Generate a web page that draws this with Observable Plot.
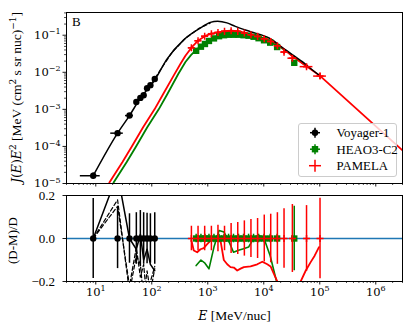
<!DOCTYPE html>
<html><head><meta charset="utf-8">
<script src="https://cdn.jsdelivr.net/npm/d3@7"></script>
<script src="https://cdn.jsdelivr.net/npm/@observablehq/plot@0.6"></script>
<style>body{margin:0;background:white}#chart{width:415px;height:330px;position:relative;background:white}svg{display:block}</style>
</head><body><div id="chart"></div><script>
const TXT = "'Liberation Serif', 'Times New Roman', serif";
const MATH = "'DejaVu Serif', serif";

// ---- Voyager-1 data ----
const voyE = [9.0, 24.5, 40, 53, 62.5, 71.6, 82.4, 94.5, 113];
const voyJ = [1.62e-5, 2.28e-4, 6.8e-4, 1.58e-3, 2.04e-3, 2.4e-3, 3.7e-3, 4.5e-3, 6.6e-3];
const voyLo = [5.3, 18.5, 34, 49.5, 58.5, 67, 77, 88.5, 105];
const voyHi = [12.0, 31, 47, 56.7, 66.5, 76, 88, 101, 121];
const voyErr = [0.186, 0.14, 0.115, 0.12, 0.13, 0.12, 0.118, 0.115, 0.12];
const voyResSolid = [0, 0.30, 0.0, -0.05, 0.02, -0.10, -0.05, -0.12, -0.15];
const voyResDashA = [0, 0.18, -0.25, -0.08, -0.12, -0.28, -0.15, -0.25, -0.14];
const voyResDashB = [0, 0.15, -0.22, -0.04, -0.18, -0.12, -0.30, -0.20, -0.13];

// ---- HEAO3-C2 data ----
const heaE = [620, 755, 890, 1050, 1290, 1590, 1950, 2350, 2880, 3540, 4350, 5350, 6570, 8070, 10100, 13000, 17300, 35000];
const heaJ = [0.038, 0.049, 0.058, 0.070, 0.082, 0.094, 0.100, 0.103, 0.103, 0.103, 0.100, 0.097, 0.091, 0.083, 0.073, 0.063, 0.048, 0.018];
const heaErr = [0.02, 0.02, 0.02, 0.02, 0.02, 0.02, 0.02, 0.02, 0.02, 0.02, 0.02, 0.02, 0.02, 0.02, 0.02, 0.02, 0.02, 0.15];
const heaRes = [-0.126, -0.10, -0.115, -0.141, -0.04, 0.037, 0.03, -0.01, -0.064, -0.055, -0.048, -0.04, 0.0, 0.015, 0.0, -0.08, -0.21, -0.6];

// ---- PAMELA data ----
const pamE = [510, 670, 880, 1160, 1520, 1990, 2610, 3430, 4500, 5900, 7750, 10200, 13300, 17500, 23000, 32400, 58000, 101000];
const pamJ = [0.0457, 0.071, 0.094, 0.110, 0.119, 0.127, 0.132, 0.127, 0.115, 0.103, 0.093, 0.080, 0.068, 0.052, 0.035, 0.024, 0.0142, 0.0079];
const pamLo = [449, 590, 775, 1022, 1339, 1753, 2300, 3022, 3965, 5198, 6828, 8987, 11718, 15419, 20264, 27000, 44600, 77700];
const pamHi = [579, 760, 999, 1317, 1725, 2259, 2962, 3893, 5108, 6697, 8796, 11577, 15096, 19863, 26105, 38880, 75400, 131300];
const pamErr = [0.057, 0.057, 0.057, 0.057, 0.062, 0.057, 0.07, 0.074, 0.082, 0.088, 0.093, 0.109, 0.113, 0.12, 0.138, 0.158, 0.153, 0.187];
const pamResE = [511, 562, 646, 740, 848, 948, 1118, 1281, 1473, 1688, 1933, 2224, 2548, 2918, 3357, 3846, 4406, 5806, 7649, 9402, 11550, 13230, 15160, 17440, 19980, 40240, 45530, 55960, 68760, 81060, 96770];
const pamResV = [-0.01, -0.056, -0.064, -0.05, -0.045, -0.03, -0.01, 0.0, -0.005, -0.01, -0.10, -0.12, -0.133, -0.135, -0.149, -0.14, -0.133, -0.13, -0.12, -0.108, -0.12, -0.13, -0.164, -0.2, -0.26, -0.26, -0.2, -0.15, -0.11, -0.08, -0.04];

// ---- model curves ----
const modVoyE = [9.0, 24.5, 40, 62.5, 113, 188, 372, 740, 1110, 1500, 2200, 3100, 5800, 12400, 24500, 48700, 73000, 101000];
const modVoyJ = [1.62e-5, 2.28e-4, 6.8e-4, 2.0e-3, 6.2e-3, 0.023, 0.075, 0.157, 0.222, 0.238, 0.215, 0.173, 0.124, 0.084, 0.040, 0.0194, 0.0117, 0.0080];
const modVoyBE = [100, 150, 230, 400, 700, 1100];
const modVoyBJ = [5.0e-3, 1.31e-2, 3.45e-2, 8.3e-2, 0.153, 0.212];
const modPamE = [17.5, 30, 44, 70, 112, 160, 250, 330, 399, 510, 670, 880, 1160, 1520, 1990, 2610, 3430, 4500, 5900, 7750, 10200, 13300, 17500, 23000, 32400, 58000, 101000, 3e6];
const modPamJ = [1.06e-5, 3.8e-5, 1.0e-4, 3.3e-4, 1.0e-3, 2.6e-3, 8.5e-3, 0.0175, 0.028, 0.046, 0.071, 0.094, 0.110, 0.120, 0.128, 0.132, 0.128, 0.117, 0.105, 0.094, 0.082, 0.071, 0.057, 0.042, 0.027, 0.0145, 0.0080, 7.8e-5];
const modHeaE = [20.8, 35.7, 52.4, 83, 133, 190, 297, 399, 500, 620, 755, 890, 1050, 1290, 1590, 1950, 2350, 2880, 3540, 4350, 5350, 6570, 8070, 10100, 13000, 17300, 23000, 35000, 58000];
const modHeaJ = [1.06e-5, 3.8e-5, 1.0e-4, 3.3e-4, 1.0e-3, 2.6e-3, 9.0e-3, 0.019, 0.029, 0.040, 0.051, 0.061, 0.071, 0.082, 0.091, 0.097, 0.100, 0.102, 0.101, 0.098, 0.094, 0.088, 0.081, 0.073, 0.064, 0.053, 0.041, 0.026, 0.0145];

// ---- ticks ----
const xMajor = [10, 100, 1e3, 1e4, 1e5, 1e6];
const xMinor = [3,4,5,6,7,8,9, 20,30,40,50,60,70,80,90, 200,300,400,500,600,700,800,900,
  2e3,3e3,4e3,5e3,6e3,7e3,8e3,9e3, 2e4,3e4,4e4,5e4,6e4,7e4,8e4,9e4, 2e5,3e5,4e5,5e5,6e5,7e5,8e5,9e5, 2e6,3e6];
const yMajorTop = [1e-5, 1e-4, 1e-3, 1e-2, 1e-1];
const yMinorTop = [2e-5,3e-5,4e-5,5e-5,6e-5,7e-5,8e-5,9e-5, 2e-4,3e-4,4e-4,5e-4,6e-4,7e-4,8e-4,9e-4,
  2e-3,3e-3,4e-3,5e-3,6e-3,7e-3,8e-3,9e-3, 2e-2,3e-2,4e-2,5e-2,6e-2,7e-2,8e-2,9e-2, 0.2,0.3,0.4];
const yTicksBot = [-0.2, 0, 0.2];

// ---- tables ----
const voy = voyE.map((e,i)=>({e, j:voyJ[i], lo:voyLo[i], hi:voyHi[i], err:voyErr[i], rs:voyResSolid[i], ra:voyResDashA[i], rb:voyResDashB[i]}));
const hea = heaE.map((e,i)=>({e, j:heaJ[i], err:heaErr[i], res:heaRes[i]}));
const pam = pamE.map((e,i)=>({e, j:pamJ[i], lo:pamLo[i], hi:pamHi[i], err:pamErr[i]}));
const pamRes = pamResE.map((e,i)=>({e, v:pamResV[i]}));
const mVoy = modVoyE.map((e,i)=>({e, j:modVoyJ[i]}));
const mVoyB = modVoyBE.map((e,i)=>({e, j:modVoyBJ[i]}));
const mPam = modPamE.map((e,i)=>({e, j:modPamJ[i]}));
const mHea = modHeaE.map((e,i)=>({e, j:modHeaJ[i]}));

const expo = d => { const k = Math.round(Math.log10(d)); return k < 0 ? "\u2212" + (-k) : String(k); };
const plotStyle = {fontFamily: TXT, fontSize: "13px", background: "white", color: "black", overflow: "visible"};
const GREEN = "#008000", RED = "#ff0000", BLUE = "#1f77b4";

const topPlot = Plot.plot({
  width: 415, height: 190, marginLeft: 66, marginRight: 13, marginTop: 12, marginBottom: 7,
  style: plotStyle,
  x: {type: "log", domain: [3, 3e6]},
  y: {type: "log", domain: [1e-5, 0.41]},
  marks: [
    Plot.axisX({ticks: xMajor, tickSize: 3.5, tickFormat: () => "", label: null, strokeWidth: 0.9}),
    Plot.axisX({ticks: xMinor, tickSize: 2, tickFormat: () => "", label: null, strokeWidth: 0.7}),
    Plot.axisY({ticks: yMajorTop, tickSize: 3.5, tickPadding: 2.5, tickFormat: d => "10^" + expo(d), label: null, strokeWidth: 0.9}),
    Plot.axisY({ticks: yMinorTop, tickSize: 2, tickFormat: () => "", label: null, strokeWidth: 0.7}),
    Plot.line(mHea, {x: "e", y: "j", stroke: GREEN, strokeWidth: 1.8, clip: true}),
    Plot.line(mPam, {x: "e", y: "j", stroke: RED, strokeWidth: 1.8, clip: true}),
    Plot.line(mVoyB, {x: "e", y: "j", stroke: "black", strokeWidth: 1.3, strokeDasharray: "4,2.5", clip: true}),
    Plot.line(mVoy, {x: "e", y: "j", stroke: "black", strokeWidth: 1.5, clip: true, curve: "monotone-x"}),
    Plot.ruleX(hea, {x: "e", y1: d => d.j*(1-d.err), y2: d => d.j*(1+d.err), stroke: GREEN, strokeWidth: 1.5}),
    Plot.dot(hea, {x: "e", y: "j", symbol: "square", r: 3.6, fill: GREEN}),
    Plot.ruleX(pam, {x: "e", y1: d => d.j*(1-d.err), y2: d => d.j*(1+d.err), stroke: RED, strokeWidth: 1.5}),
    Plot.ruleY(pam, {y: "j", x1: "lo", x2: "hi", stroke: RED, strokeWidth: 1.5}),
    Plot.dot(pam, {x: "e", y: "j", symbol: "plus", r: 2.4, stroke: RED, strokeWidth: 1.5}),
    Plot.ruleX(voy, {x: "e", y1: d => d.j*(1-d.err), y2: d => d.j*(1+d.err), stroke: "black", strokeWidth: 1.5}),
    Plot.ruleY(voy, {y: "j", x1: "lo", x2: "hi", stroke: "black", strokeWidth: 1.5}),
    Plot.dot(voy, {x: "e", y: "j", r: 3.2, fill: "black"}),
    Plot.frame({stroke: "black", strokeWidth: 1})
  ]
});

const botPlot = Plot.plot({
  width: 415, height: 140, marginLeft: 66, marginRight: 13, marginTop: 5, marginBottom: 49,
  style: plotStyle,
  x: {type: "log", domain: [3, 3e6]},
  y: {domain: [-0.2, 0.2]},
  marks: [
    Plot.axisX({ticks: xMajor, tickSize: 3.5, tickPadding: 2.5, tickFormat: d => "10^" + expo(d), label: null, strokeWidth: 0.9}),
    Plot.axisX({ticks: xMinor, tickSize: 2, tickFormat: () => "", label: null, strokeWidth: 0.7}),
    Plot.axisY({ticks: yTicksBot, tickSize: 3.5, tickPadding: 8, tickFormat: d => d < 0 ? "\u2212" + Math.abs(d).toFixed(1) : d.toFixed(1), label: null, strokeWidth: 0.9}),
    Plot.ruleY([0], {stroke: BLUE, strokeWidth: 1.5}),
    Plot.line(voy, {x: "e", y: "ra", stroke: "black", strokeWidth: 1.2, strokeDasharray: "4,2.5", clip: true}),
    Plot.line(voy, {x: "e", y: "rb", stroke: "black", strokeWidth: 1.2, strokeDasharray: "4,2.5", clip: true}),
    Plot.line(voy, {x: "e", y: "rs", stroke: "black", strokeWidth: 1.5, clip: true}),
    Plot.line(hea, {x: "e", y: "res", stroke: GREEN, strokeWidth: 1.6, clip: true}),
    Plot.line(pamRes, {x: "e", y: "v", stroke: RED, strokeWidth: 1.8, clip: true}),
    Plot.ruleX(voy, {x: "e", y1: d => -d.err, y2: d => d.err, stroke: "black", strokeWidth: 1.5}),
    Plot.dot(voy, {x: "e", y: () => 0, r: 3.2, fill: "black"}),
    Plot.ruleX(hea, {x: "e", y1: d => -d.err, y2: d => d.err, stroke: GREEN, strokeWidth: 1.5}),
    Plot.dot(hea, {x: "e", y: () => 0, symbol: "square", r: 3.6, fill: GREEN}),
    Plot.ruleX(pam, {x: "e", y1: d => -d.err, y2: d => d.err, stroke: RED, strokeWidth: 1.5}),
    Plot.dot(pam, {x: "e", y: () => 0, symbol: "plus", r: 2.4, stroke: RED, strokeWidth: 1.5}),
    Plot.frame({stroke: "black", strokeWidth: 1})
  ]
});

// power-of-ten tick labels rendered as mathtext-like text (DejaVu Serif)
function supify(svg) {
  d3.select(svg).selectAll("text").each(function() {
    const t = this.textContent; const m = t.match(/^(.*)\^(.+)$/);
    if (!m) return;
    const s = d3.select(this); s.text(null);
    s.style("font-family", MATH).style("font-size", "11.5px");
    s.append("tspan").text(m[1]);
    s.append("tspan").attr("dy", "-4.5").style("font-size", "8px").text(m[2]);
  });
}
supify(topPlot); supify(botPlot);

const chart = document.getElementById("chart");
chart.appendChild(topPlot); chart.appendChild(botPlot);

const T = d3.select(topPlot);
T.append("text").attr("x", 72).attr("y", 26).attr("text-anchor", "start")
  .style("font-family", TXT).style("font-size", "13px").attr("fill", "black").text("B");

// y label of the top panel
const yl = T.append("text").attr("transform", "translate(20.5,97.5) rotate(-90)").attr("text-anchor", "middle")
  .style("font-family", TXT).style("font-size", "13.5px").attr("fill", "black");
const mt = (txt, italic) => yl.append("tspan").style("font-family", MATH).style("font-size", "12.5px").style("font-style", italic ? "italic" : "normal").text(txt);
mt("J", true); mt("(", false); mt("E", true); mt(")", false); mt("E", true);
yl.append("tspan").attr("dy", -5).style("font-family", MATH).style("font-size", "9px").text("2");
yl.append("tspan").attr("dy", 5).text(" [MeV (cm");
yl.append("tspan").attr("dy", -5).style("font-family", MATH).style("font-size", "9px").text("2");
yl.append("tspan").attr("dy", 5).text(" s sr nuc)");
yl.append("tspan").attr("dy", -5).style("font-family", MATH).style("font-size", "9px").text("\u22121");
yl.append("tspan").attr("dy", 5).text("]");

// legend
const legendItems = [
  {label: "Voyager-1", color: "black", sym: "circle"},
  {label: "HEAO3-C2", color: GREEN, sym: "square"},
  {label: "PAMELA", color: RED, sym: "plus"}
];
const lg = T.append("g");
lg.append("rect").attr("x", 298.5).attr("y", 123.5).attr("width", 98).attr("height", 53).attr("rx", 2.5)
  .attr("fill", "white").attr("fill-opacity", 0.8).attr("stroke", "#cccccc").attr("stroke-width", 1);
legendItems.forEach((it, i) => {
  const cy = 132.7 + i * 16.5, cx = 315;
  const g = lg.append("g").attr("stroke", it.color).attr("stroke-width", 1.5);
  const h = it.sym === "plus" ? 6 : 5;
  g.append("line").attr("x1", cx - h).attr("x2", cx + h).attr("y1", cy).attr("y2", cy);
  g.append("line").attr("x1", cx).attr("x2", cx).attr("y1", cy - h).attr("y2", cy + h);
  if (it.sym === "circle") lg.append("circle").attr("cx", cx).attr("cy", cy).attr("r", 3.2).attr("fill", it.color);
  if (it.sym === "square") lg.append("rect").attr("x", cx - 3.2).attr("y", cy - 3.2).attr("width", 6.4).attr("height", 6.4).attr("fill", it.color);
  lg.append("text").attr("x", 336.5).attr("y", cy + 4.3).attr("text-anchor", "start")
    .style("font-family", TXT).style("font-size", "12.8px").attr("fill", "black").text(it.label);
});

const B = d3.select(botPlot);
B.append("text").attr("transform", "translate(17,50.5) rotate(-90)").attr("text-anchor", "middle")
  .style("font-family", TXT).style("font-size", "13px").attr("fill", "black").text("(D-M)/D");
const xl = B.append("text").attr("x", 234.5).attr("y", 130).attr("text-anchor", "middle")
  .style("font-family", TXT).style("font-size", "13.5px").attr("fill", "black");
xl.append("tspan").style("font-family", MATH).style("font-style", "italic").style("font-size", "12.5px").text("E");
xl.append("tspan").text(" [MeV/nuc]");
</script></body></html>
